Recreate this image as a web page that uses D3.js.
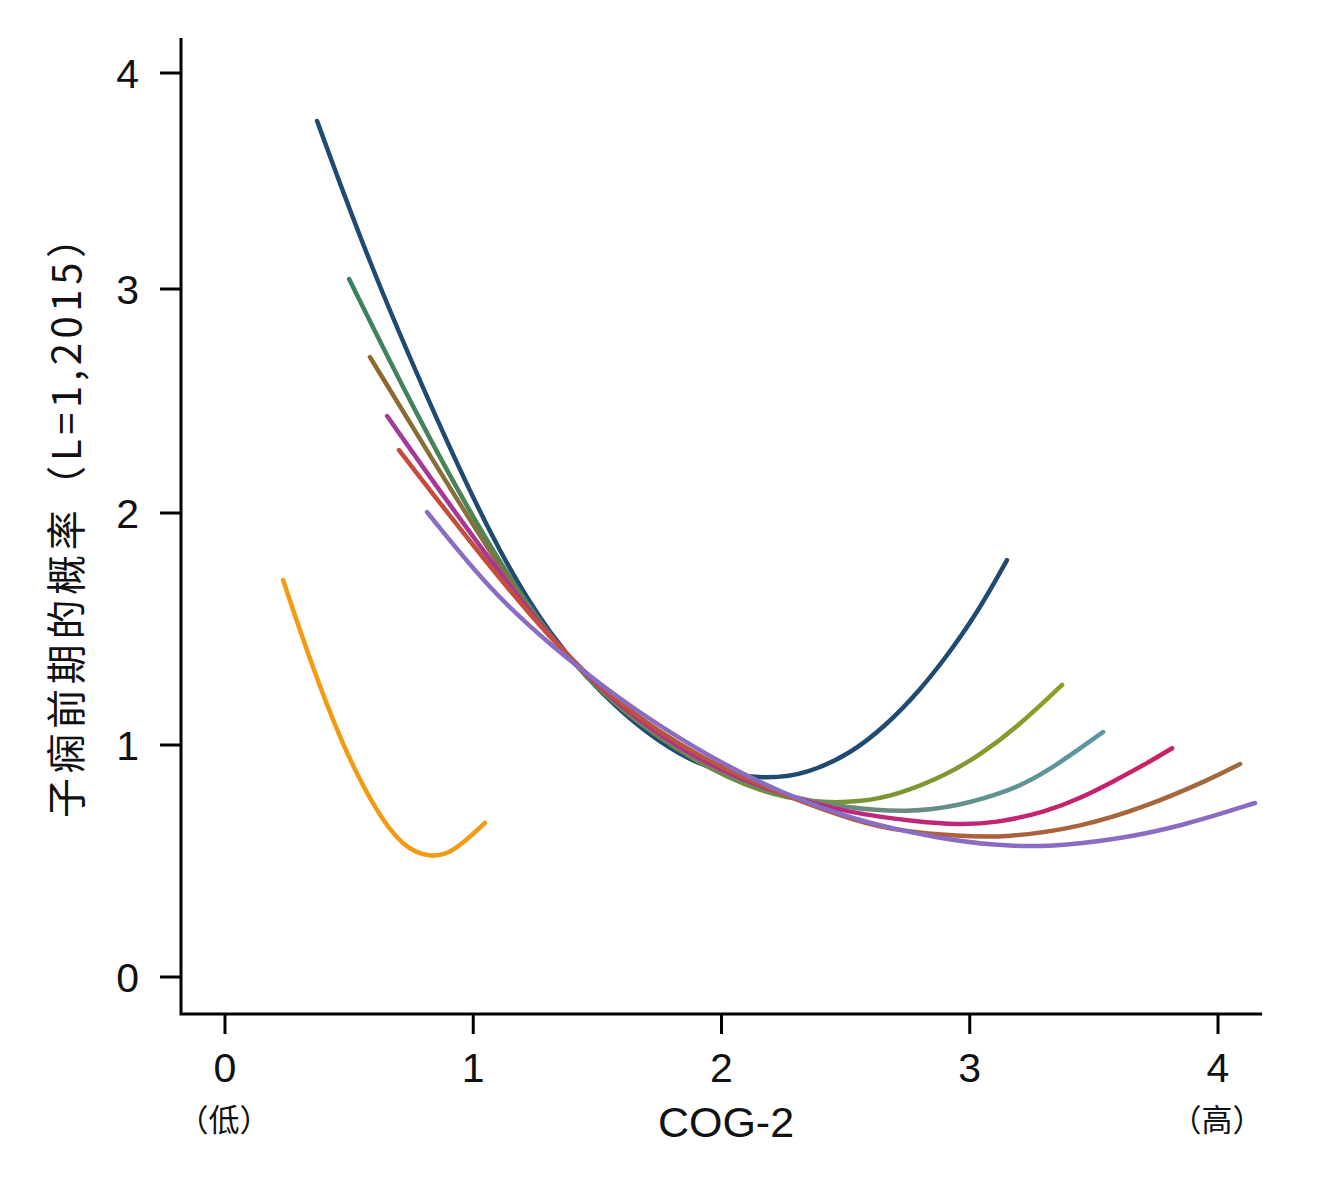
<!DOCTYPE html>
<html lang="zh">
<head>
    <meta charset="utf-8">
    <title>COG-2 curves</title>
    <script src="https://d3js.org/d3.v7.min.js"></script>
    <style>
        body { margin: 0; background: #fff; }
        text { font-family: "Liberation Sans", Arial, sans-serif; fill: #111; }
        .cjk { font-family: "Noto Sans CJK SC", "Liberation Sans", sans-serif; }
    </style>
</head>
<body>
    <script type="text/javascript">
        // tick labels
        var xTicks = [0, 1, 2, 3, 4];
        var yTicks = [0, 1, 2, 3, 4];
        var xSubLabels = ["（低）", "", "", "", "（高）"];

        // one array of [COG-2, probability] points per curve
        var curveOrange = [[0.234, 1.711], [0.342, 1.366], [0.475, 0.991], [0.612, 0.707],
                           [0.717, 0.560], [0.826, 0.513], [0.918, 0.534], [1.047, 0.664]];
        var curveNavy = [[0.371, 3.778], [0.576, 3.134], [0.826, 2.482], [1.076, 1.884],
                         [1.301, 1.474], [1.591, 1.129], [1.913, 0.892], [2.183, 0.849],
                         [2.350, 0.878], [2.518, 0.962], [2.659, 1.080], [2.800, 1.236],
                         [2.920, 1.400], [3.041, 1.588], [3.150, 1.797]];
        var curveOlive = [[0.500, 3.046], [0.765, 2.451], [1.047, 1.884], [1.309, 1.453],
                          [1.591, 1.142], [1.913, 0.915], [2.155, 0.798], [2.357, 0.752],
                          [2.558, 0.752], [2.719, 0.789], [2.900, 0.868], [3.041, 0.956],
                          [3.200, 1.085], [3.372, 1.259]];
        var curveTeal = [[0.584, 2.696], [0.866, 2.183], [1.108, 1.763], [1.309, 1.453],
                         [1.591, 1.151], [1.913, 0.914], [2.236, 0.782], [2.518, 0.726],
                         [2.750, 0.710], [2.950, 0.735], [3.170, 0.805], [3.311, 0.883],
                         [3.537, 1.056]];
        var curveCrimson = [[0.653, 2.433], [0.947, 1.970], [1.309, 1.453], [1.591, 1.159],
                            [1.913, 0.927], [2.236, 0.785], [2.518, 0.706], [2.800, 0.668],
                            [2.950, 0.657], [3.100, 0.662], [3.311, 0.713], [3.444, 0.770],
                            [3.577, 0.842], [3.714, 0.921], [3.815, 0.986]];
        var curveBrown = [[0.701, 2.281], [0.987, 1.875], [1.309, 1.453], [1.591, 1.168],
                          [1.913, 0.944], [2.236, 0.788], [2.558, 0.665], [2.719, 0.630],
                          [2.950, 0.607], [3.150, 0.601], [3.444, 0.645], [3.714, 0.735],
                          [3.980, 0.858], [4.089, 0.918]];
        var curveLavender = [[0.814, 2.004], [1.067, 1.668], [1.309, 1.431], [1.591, 1.194],
                             [1.913, 0.970], [2.236, 0.793], [2.558, 0.668], [2.880, 0.597],
                             [3.100, 0.567], [3.311, 0.560], [3.577, 0.590], [3.847, 0.648],
                             [4.149, 0.750]];

        var series = [
            { name: "orange",   pts: curveOrange,   c0: "#f29a12", c1: "#f29a12" },
            { name: "navy",     pts: curveNavy,     c0: "#1f4a72", c1: "#1f4a72" },
            { name: "olive",    pts: curveOlive,    c0: "#3d8060", c1: "#909c26" },
            { name: "teal",     pts: curveTeal,     c0: "#8c6a2c", c1: "#5b98a3" },
            { name: "crimson",  pts: curveCrimson,  c0: "#a33a9c", c1: "#cc1f66" },
            { name: "brown",    pts: curveBrown,    c0: "#c84a3a", c1: "#a06a3c" },
            { name: "lavender", pts: curveLavender, c0: "#8a6cc2", c1: "#8a6cc2" }
        ];

        var w = 1326, h = 1187;

        var svg = d3.select("body").append("svg")
            .attr("width", w)
            .attr("height", h);

        var x = d3.scaleLinear().domain([0, 4]).range([225, 1218]);
        // the picture's y-axis is not evenly spaced, so map each unit separately
        var y = d3.scaleLinear().domain([0, 1, 2, 3, 4]).range([977, 745, 513, 289, 73]);

        var axisLeft = 181, axisBottom = 1014;

        // axis lines
        svg.append("path")
            .attr("d", "M" + axisLeft + ",38V" + axisBottom + "H1262")
            .attr("fill", "none")
            .attr("stroke", "#000")
            .attr("stroke-width", 3);

        // y ticks
        var yg = svg.append("g");
        yg.selectAll("line").data(yTicks).enter().append("line")
            .attr("x1", axisLeft - 21).attr("x2", axisLeft)
            .attr("y1", function(d) { return y(d); })
            .attr("y2", function(d) { return y(d); })
            .attr("stroke", "#000").attr("stroke-width", 3);
        yg.selectAll("text").data(yTicks).enter().append("text")
            .attr("x", 139)
            .attr("y", function(d) { return y(d) + 15; })
            .attr("text-anchor", "end")
            .attr("font-size", 41)
            .text(function(d) { return d; });

        // x ticks
        var xg = svg.append("g");
        xg.selectAll("line").data(xTicks).enter().append("line")
            .attr("x1", function(d) { return x(d); })
            .attr("x2", function(d) { return x(d); })
            .attr("y1", axisBottom).attr("y2", axisBottom + 20)
            .attr("stroke", "#000").attr("stroke-width", 3);
        xg.selectAll("text.tick").data(xTicks).enter().append("text")
            .attr("class", "tick")
            .attr("x", function(d) { return x(d); })
            .attr("y", 1082)
            .attr("text-anchor", "middle")
            .attr("font-size", 41)
            .text(function(d) { return d; });
        xg.selectAll("text.sub").data(xTicks).enter().append("text")
            .attr("class", "sub cjk")
            .attr("x", function(d) { return x(d) - 1; })
            .attr("y", 1131)
            .attr("text-anchor", "middle")
            .attr("font-size", 31)
            .text(function(d, i) { return xSubLabels[i]; });

        // axis titles
        svg.append("text")
            .attr("x", 726).attr("y", 1137)
            .attr("text-anchor", "middle")
            .attr("font-size", 43)
            .text("COG-2");
        svg.append("text")
            .attr("class", "cjk")
            .attr("transform", "translate(81,518) rotate(-90)")
            .attr("text-anchor", "middle")
            .attr("font-size", 40)
            .attr("textLength", 600)
            .attr("lengthAdjust", "spacing")
            .text("子痫前期的概率（L=1,2015）");

        // colour gradients along each curve
        var defs = svg.append("defs");
        series.forEach(function(s, i) {
            var g = defs.append("linearGradient")
                .attr("id", "grad" + i)
                .attr("gradientUnits", "userSpaceOnUse")
                .attr("x1", x(s.pts[0][0])).attr("y1", 0)
                .attr("x2", x(s.pts[s.pts.length - 1][0])).attr("y2", 0);
            g.append("stop").attr("offset", "0%").attr("stop-color", s.c0);
            g.append("stop").attr("offset", "100%").attr("stop-color", s.c1);
        });

        var line = d3.line()
            .x(function(d) { return x(d[0]); })
            .y(function(d) { return y(d[1]); })
            .curve(d3.curveBasis);

        svg.append("g").selectAll("path")
            .data(series)
            .enter()
            .append("path")
            .attr("d", function(d) { return line(d.pts); })
            .attr("fill", "none")
            .attr("stroke", function(d, i) { return "url(#grad" + i + ")"; })
            .attr("stroke-width", 4.5)
            .attr("stroke-linecap", "round");
    </script>
</body>
</html>
